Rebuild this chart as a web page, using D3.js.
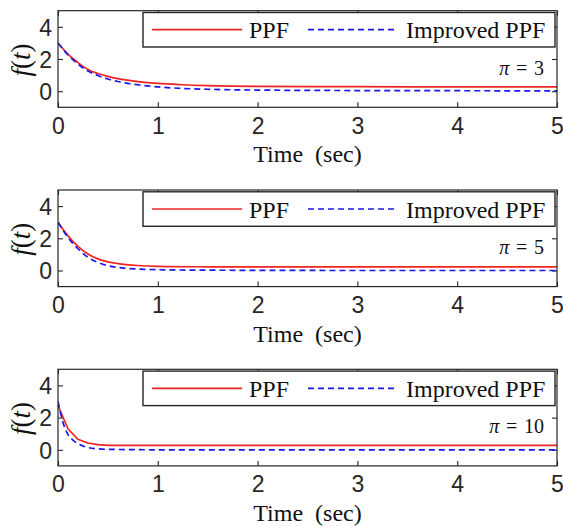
<!DOCTYPE html>
<html>
<head>
<meta charset="utf-8">
<script src="https://cdn.jsdelivr.net/npm/d3@7"></script>
<style>
  body { margin: 0; background: #fff; }
  svg { display: block; }
</style>
</head>
<body>
<div class="chart"></div>
<script>
/*
* three stacked f(t) panels, PPF vs Improved PPF
*/

var tickX = [0, 1, 2, 3, 4, 5];
var tickY = [0, 2, 4];
var piLabels = ["3", "5", "10"];
var legendNames = ["PPF", "Improved PPF"];

// pi = 3
var tPpf1 = [0, 0.1, 0.2, 0.3, 0.4, 0.5, 0.6, 0.8, 1.0, 1.25, 1.5, 2, 3, 4, 5];
var ppf1  = [3, 2.3, 1.78, 1.35, 1.1, 0.92, 0.78, 0.6, 0.48, 0.4, 0.35, 0.3, 0.28, 0.27, 0.27];
var tImp1 = [0, 0.1, 0.2, 0.3, 0.4, 0.5, 0.6, 0.8, 1.0, 1.25, 1.5, 2, 3, 4, 5];
var imp1  = [3, 2.25, 1.68, 1.25, 0.97, 0.76, 0.6, 0.4, 0.27, 0.17, 0.12, 0.07, 0.04, 0.03, 0.02];

// pi = 5
var tPpf2 = [0, 0.1, 0.2, 0.3, 0.4, 0.5, 0.6, 0.8, 1.0, 1.5, 2, 3, 4, 5];
var ppf2  = [3, 2.15, 1.5, 1.02, 0.72, 0.54, 0.43, 0.31, 0.26, 0.23, 0.22, 0.22, 0.22, 0.22];
var tImp2 = [0, 0.1, 0.2, 0.3, 0.4, 0.5, 0.6, 0.8, 1.0, 1.5, 2, 3, 4, 5];
var imp2  = [3, 2.05, 1.35, 0.82, 0.5, 0.3, 0.19, 0.09, 0.05, 0.02, 0.01, 0, 0, 0];

// pi = 10
var tPpf3 = [0, 0.1, 0.2, 0.3, 0.4, 0.5, 0.75, 1, 2, 3, 4, 5];
var ppf3  = [2.75, 1.3, 0.65, 0.42, 0.32, 0.28, 0.27, 0.27, 0.27, 0.27, 0.27, 0.27];
var tImp3 = [0, 0.05, 0.1, 0.15, 0.2, 0.25, 0.3, 0.4, 0.5, 0.75, 1, 2, 3, 4, 5];
var imp3  = [3, 1.7, 0.95, 0.6, 0.38, 0.24, 0.14, 0.06, 0.03, 0.01, 0, 0, 0, 0, 0];

var width = 563, height = 526;
var left = 58, right = 557, plotH = 96.6;
var tops = [10.7, 190, 369.3];

var svg = d3.select(".chart").append("svg")
  .attr("width", width)
  .attr("height", height);

var x = d3.scaleLinear().domain([0, 5]).range([left, right]);

function zip(ts, vs) {
  return ts.map(function (t, i) { return { t: t, v: vs[i] }; });
}

var panels = [
  { ppf: zip(tPpf1, ppf1), imp: zip(tImp1, imp1), curve: d3.curveMonotoneX, ppfCurve: d3.curveMonotoneX },
  { ppf: zip(tPpf2, ppf2), imp: zip(tImp2, imp2), curve: d3.curveMonotoneX, ppfCurve: d3.curveMonotoneX },
  { ppf: zip(tPpf3, ppf3), imp: zip(tImp3, imp3), curve: d3.curveMonotoneX, ppfCurve: d3.curveLinear }
];

var axisColor = "#262626";
var red = "#f02424", blue = "#1818f0";

for (var p = 0; p < panels.length; p++) {
  makePanel(panels[p], tops[p], piLabels[p], p);
}

function makePanel(panel, top, piText, idx) {
  var y = d3.scaleLinear().domain([-1, 5]).range([top + plotH, top]);
  var g = svg.append("g");

  g.append("clipPath").attr("id", "clip" + idx)
    .append("rect")
    .attr("x", left).attr("y", top)
    .attr("width", right - left).attr("height", plotH);

  // ticks on all four sides, labels only bottom / left
  var xb = d3.axisBottom(x).tickValues(tickX).tickSize(-5).tickPadding(10).tickFormat(d3.format("d"));
  var gx = g.append("g").attr("transform", "translate(0," + (top + plotH) + ")").call(xb);
  var gxt = g.append("g").attr("transform", "translate(0," + top + ")")
    .call(d3.axisTop(x).tickValues(tickX).tickSize(-5).tickFormat(""));
  var gy = g.append("g").attr("transform", "translate(" + left + ",0)")
    .call(d3.axisLeft(y).tickValues(tickY).tickSize(-5).tickPadding(6).tickFormat(d3.format("d")));
  var gyr = g.append("g").attr("transform", "translate(" + right + ",0)")
    .call(d3.axisRight(y).tickValues(tickY).tickSize(-5).tickFormat(""));

  [gx, gxt, gy, gyr].forEach(function (a) {
    a.select(".domain").remove();
    a.selectAll("line").attr("stroke", axisColor).attr("stroke-width", 1.1);
  });
  gx.selectAll("text")
    .attr("font-family", "Liberation Sans, Arial, sans-serif")
    .attr("font-size", "23px").attr("fill", axisColor);
  gy.selectAll("text")
    .attr("font-family", "Liberation Sans, Arial, sans-serif")
    .attr("font-size", "23px").attr("fill", axisColor)
    .attr("dy", "0.36em");

  var lineP = d3.line().x(function (d) { return x(d.t); }).y(function (d) { return y(d.v); }).curve(panel.ppfCurve);
  var lineI = d3.line().x(function (d) { return x(d.t); }).y(function (d) { return y(d.v); }).curve(panel.curve);

  var plot = g.append("g").attr("clip-path", "url(#clip" + idx + ")");
  plot.append("path").datum(panel.ppf)
    .attr("d", lineP).attr("fill", "none")
    .attr("stroke", red).attr("stroke-width", 1.7);
  plot.append("path").datum(panel.imp)
    .attr("d", lineI).attr("fill", "none")
    .attr("stroke", blue).attr("stroke-width", 1.7)
    .attr("stroke-dasharray", "6,4");

  // box
  g.append("rect")
    .attr("x", left).attr("y", top)
    .attr("width", right - left).attr("height", plotH)
    .attr("fill", "none").attr("stroke", axisColor).attr("stroke-width", 1.2);

  // pi label
  var pl = g.append("text")
    .attr("x", 544).attr("y", top + 64)
    .attr("text-anchor", "end")
    .attr("font-family", "Liberation Serif, Times New Roman, serif")
    .attr("font-size", "20px").attr("fill", "#111")
    .style("white-space", "pre");
  pl.append("tspan").attr("font-style", "italic").text("\u03c0");
  pl.append("tspan").text("\u2004=\u2004" + piText);

  // legend
  var lg = g.append("g");
  lg.append("rect")
    .attr("x", 143).attr("y", top + 1.8)
    .attr("width", 412).attr("height", 34.5)
    .attr("fill", "#fff").attr("stroke", axisColor).attr("stroke-width", 1.4);
  lg.append("line")
    .attr("x1", 152).attr("x2", 242)
    .attr("y1", top + 19).attr("y2", top + 19)
    .attr("stroke", red).attr("stroke-width", 1.7);
  lg.append("line")
    .attr("x1", 308).attr("x2", 398)
    .attr("y1", top + 19).attr("y2", top + 19)
    .attr("stroke", blue).attr("stroke-width", 1.7)
    .attr("stroke-dasharray", "6,4");
  lg.selectAll(".lt").data(legendNames).enter().append("text")
    .attr("class", "lt")
    .attr("x", function (d, i) { return i == 0 ? 249 : 406; })
    .attr("y", top + 27.5)
    .attr("font-family", "Liberation Serif, Times New Roman, serif")
    .attr("font-size", "24px").attr("fill", "#111")
    .text(function (d) { return d; });

  // axis titles
  g.append("text")
    .attr("x", x(2.5)).attr("y", top + plotH + 55)
    .attr("text-anchor", "middle")
    .attr("font-family", "Liberation Serif, Times New Roman, serif")
    .attr("font-size", "24px").attr("fill", "#111")
    .style("white-space", "pre")
    .text("Time  (sec)");

  var yl = g.append("text")
    .attr("transform", "translate(30," + (top + plotH / 2 + 1) + ") rotate(-90)")
    .attr("text-anchor", "middle")
    .attr("font-family", "Liberation Serif, Times New Roman, serif")
    .attr("font-size", "27px").attr("fill", "#111");
  yl.append("tspan").attr("font-style", "italic").text("f");
  yl.append("tspan").text("(");
  yl.append("tspan").attr("font-style", "italic").text("t");
  yl.append("tspan").text(")");
}
</script>
</body>
</html>
